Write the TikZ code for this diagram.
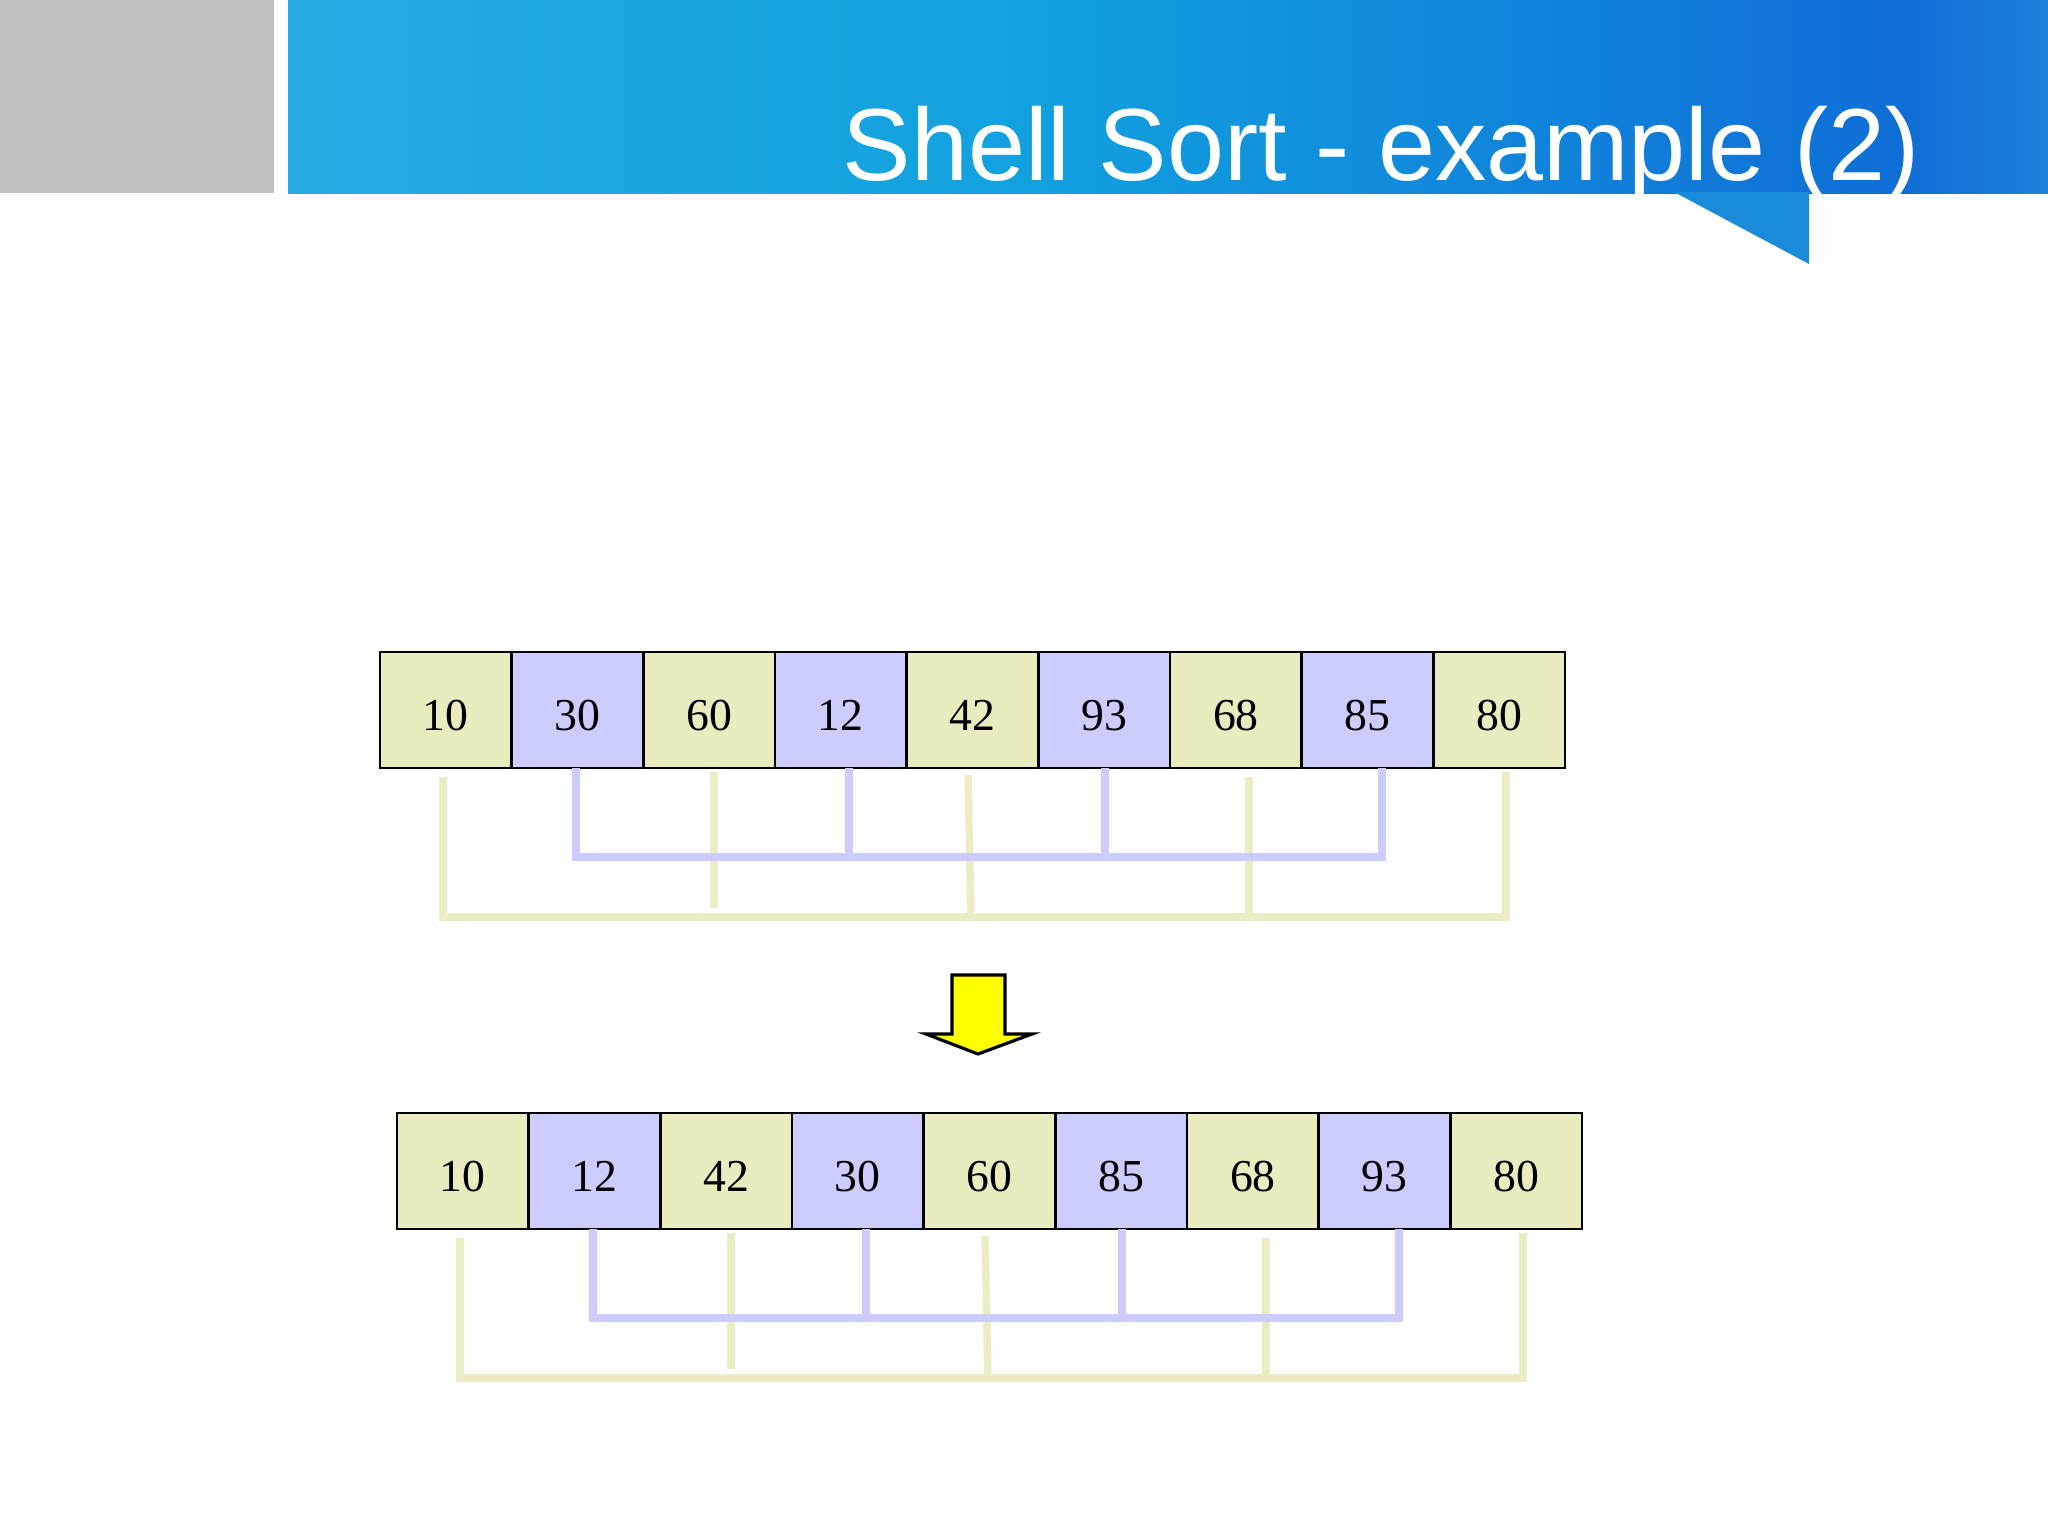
\documentclass[tikz,border=0pt]{standalone}
\usepackage{fontspec}
\setmainfont{Liberation Serif}
\newfontfamily\titlefont{Liberation Sans}
\definecolor{cellyellow}{HTML}{EBEBC0}
\definecolor{cellblue}{HTML}{CCCCFF}
\definecolor{linkyellow}{HTML}{EDEDC5}
\definecolor{linkblue}{HTML}{CCCCFF}
\definecolor{headgrey}{HTML}{C0C0C0}
\definecolor{headL}{HTML}{26A9E1}
\definecolor{headM}{HTML}{12A2DF}
\definecolor{headR}{HTML}{0F6ED6}
\definecolor{headE}{HTML}{1D80DA}
\definecolor{tabblue}{HTML}{1A8ADB}
\definecolor{arrowyellow}{HTML}{FFFF00}
\tikzset{
  cellY/.style={draw=black, line width=0.8pt, fill=cellyellow,
    minimum width=1.3167cm, minimum height=1.16cm, inner sep=0pt,
    text height=0.41cm, text depth=0pt,
    font=\fontsize{13}{14}\selectfont},
  cellB/.style={cellY, fill=cellblue},
  ylink/.style={draw=linkyellow, line width=2.1pt},
  blink/.style={draw=linkblue, line width=2.1pt},
  titletext/.style={text=white, inner sep=0pt, font=\titlefont\fontsize{29.15}{32}\selectfont}
}
\newcommand\shellrow[4]{%
  \begin{scope}[shift={(#2,#3)}]
    \foreach \v [count=\i from 0] in {#4} {
      \pgfmathsetmacro\cx{65.83+131.67*\i}
      \ifodd\i\def\cst{cellB}\else\def\cst{cellY}\fi
      \node[style=\cst] (#1\i) at (\cx,58) {\v};
    }
    % yellow group (even positions)
    \coordinate (#1ya) at (63,125);
    \coordinate (#1yL) at (63,265);
    \coordinate (#1yR) at (1126,265);
    \coordinate (#1ye) at (1126,120);
    \coordinate (#1yb) at (334,120);
    \coordinate (#1ybe) at (334,256);
    \coordinate (#1yc) at (588,123);
    \coordinate (#1yce) at (591,265);
    \coordinate (#1yd) at (869,125);
    \coordinate (#1yde) at (869,269);
    \draw[ylink] (#1ya) -- (#1yL) -- (#1yR) -- (#1ye);
    \draw[ylink] (#1yb) -- (#1ybe);
    \draw[ylink] (#1yc) -- (#1yce);
    \draw[ylink] (#1yd) -- (#1yde);
    % blue group (odd positions)
    \coordinate (#1ba) at (196,116);
    \coordinate (#1bL) at (196,205);
    \coordinate (#1bR) at (1002,205);
    \coordinate (#1be) at (1002,116);
    \coordinate (#1bb) at (469,116);
    \coordinate (#1bbe) at (469,201);
    \coordinate (#1bc) at (725,116);
    \coordinate (#1bce) at (725,205);
    \draw[blink] (#1ba) -- (#1bL) -- (#1bR) -- (#1be);
    \draw[blink] (#1bb) -- (#1bbe);
    \draw[blink] (#1bc) -- (#1bce);
  \end{scope}}
\begin{document}
\begin{tikzpicture}[x=0.01cm,y=-0.01cm]
  \useasboundingbox (0,0) rectangle (2048,1536);
  \fill[white] (0,0) rectangle (2048,1536);
  % header
  \fill[headgrey] (0,0) rectangle (274,193);
  \shade[left color=headL, right color=headM] (288,0) rectangle (1001,193);
  \shade[left color=headM, right color=headR] (1000,0) rectangle (1901,193);
  \shade[left color=headR, right color=headE] (1900,0) rectangle (2048,193);
  \fill[tabblue] (1674,192) -- (1809,192) -- (1809,264) -- cycle;
  \node[titletext, anchor=base west] (title) at (842,180) {Shell Sort - example (2)};
  % arrays
  \shellrow{t}{380}{652}{10,30,60,12,42,93,68,85,80}
  \shellrow{b}{397}{1113}{10,12,42,30,60,85,68,93,80}
  % down arrow
  \draw[fill=arrowyellow, line width=0.9pt, line join=miter]
    (952,975) -- (1005,975) -- (1005,1034) -- (1032,1034) -- (978,1054)
    -- (926,1034) -- (952,1034) -- cycle;
\end{tikzpicture}
\end{document}
